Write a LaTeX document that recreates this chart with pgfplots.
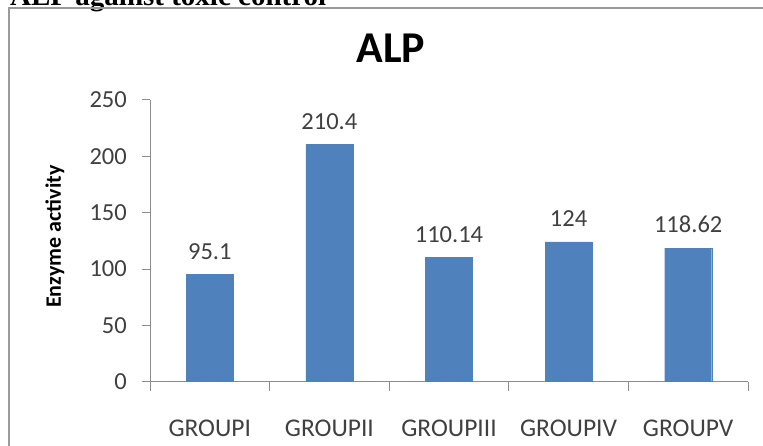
\documentclass[border=0pt]{standalone}
\usepackage{fontspec}
\setmainfont{Carlito}
\newfontfamily\headserif{Liberation Serif}
\usepackage{pgfplots}
\pgfplotsset{compat=1.18}
\definecolor{barblue}{HTML}{4F81BD}
\definecolor{axisgray}{HTML}{8C8C8C}
\definecolor{labelgray}{HTML}{404040}
\definecolor{framegray}{HTML}{9A9A9A}

\begin{document}
\begin{tikzpicture}[x=1pt,y=1pt]
\useasboundingbox (0,0) rectangle (763,446);
% caption line above the chart area
\node[anchor=base west, inner sep=0pt, font=\headserif\bfseries\fontsize{29}{30}\selectfont] at (10,440.5) {ALP against toxic control};
% chart area border
\draw[line width=1.6pt, framegray] (9,0) -- (9,438) -- (763,438);
% chart title
\node[anchor=base, inner sep=0pt, font=\bfseries\fontsize{44}{46}\selectfont] at (391,383.3) {ALP};
\begin{axis}[
  at={(150pt,64.3pt)}, anchor=south west,
  scale only axis, width=598pt, height=281.7pt,
  xmin=-0.5, xmax=4.5, ymin=0, ymax=250,
  axis x line*=bottom, axis y line*=left,
  axis line style={axisgray, line width=1pt},
  tick style={axisgray, line width=1pt},
  tick align=outside, major tick length=8pt, minor tick length=9pt,
  ytick={0,50,...,250},
  xtick={0,...,4},
  xticklabels={GROUPI,GROUPII,GROUPIII,GROUPIV,GROUPV},
  major x tick style={draw=none},
  minor xtick={-0.5,0.5,...,4.5},
  /pgf/number format/assume math mode=true,
  yticklabel style={font=\fontsize{24.5}{26}\selectfont, text=labelgray, anchor=east, inner sep=0pt, xshift=-15pt},
  xticklabel style={font=\fontsize{25.5}{27}\selectfont, text=labelgray, anchor=north, inner sep=0pt, yshift=-30pt},
  ylabel={Enzyme activity},
  every axis y label/.style={at={(axis description cs:-0.1589,0.515)}, rotate=90, anchor=center,
    font=\bfseries\fontsize{22}{24}\selectfont},
  ybar, bar width=47pt, bar shift=0pt,
  nodes near coords,
  nodes near coords style={font=\fontsize{24.5}{26}\selectfont, text=labelgray, anchor=south, inner sep=0pt, yshift=15pt,
    /pgf/number format/fixed, /pgf/number format/precision=2},
]
\addplot[fill=barblue, draw=barblue] coordinates {(0,95.1) (1,210.4) (2,110.14) (3,124) (4,118.62)};
\end{axis}
\end{tikzpicture}
\end{document}
